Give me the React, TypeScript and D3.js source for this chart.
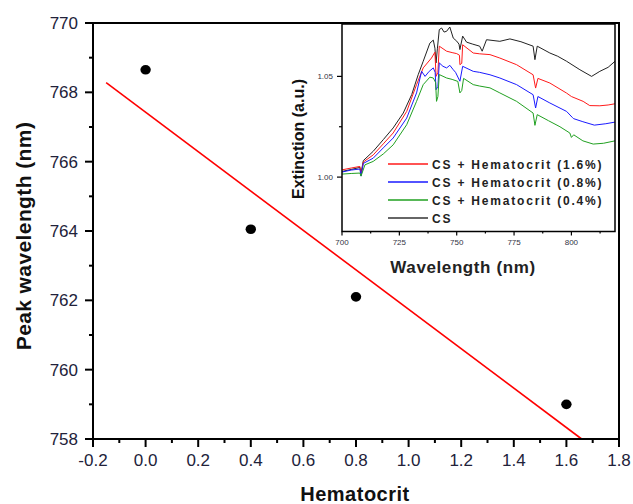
import React from "react";
import * as d3 from "d3";

// main plot: peak wavelength vs hematocrit
const hematocrit = [0.0, 0.4, 0.8, 1.6];
const peakWavelength = [768.65, 764.05, 762.1, 759.0];
const fitX = [-0.15, 1.658];
const fitY = [768.28, 758.0];

// inset spectra, [wavelength nm, extinction]
const csSeries: [number, number][] = [
  [700, 1.0028], [704, 1.0038], [707.8, 1.0048], [708.3, 1.002], [709.3, 1.0082], [713.6, 1.0128],
  [718, 1.0186], [722.3, 1.0244], [726.7, 1.0318], [730.4, 1.041], [733.2, 1.0508], [735.4, 1.0575],
  [738.3, 1.0665], [739.8, 1.068], [740.5, 1.064], [741, 1.0567], [741.6, 1.064], [742.4, 1.0732],
  [743.4, 1.074], [744.5, 1.072], [745.6, 1.0724], [747, 1.0745], [748.5, 1.069], [750, 1.0675],
  [751, 1.066], [751.4, 1.0633], [752.6, 1.07], [754.3, 1.067], [757, 1.066], [760, 1.065],
  [761.1, 1.0625], [763, 1.0682], [768.8, 1.0674], [773.2, 1.0686], [778, 1.0672], [783.3, 1.065],
  [784.1, 1.0583], [785.1, 1.065], [790.6, 1.0616], [794, 1.06], [797.9, 1.0575], [803.7, 1.0533],
  [808.8, 1.05], [812.4, 1.0525], [816, 1.0545], [819, 1.0575],
];
const hct16Series: [number, number][] = [
  [700, 1.0036], [704, 1.0045], [707.8, 1.0053], [708.3, 1.001], [709.3, 1.0075], [713.6, 1.011],
  [718, 1.0165], [722.3, 1.0219], [728.2, 1.0326], [732.5, 1.0459], [735.4, 1.0542], [739, 1.0591],
  [740.5, 1.062], [741, 1.05], [741.8, 1.052], [742.4, 1.065], [745.6, 1.0625], [748, 1.0618],
  [750, 1.0613], [751.2, 1.0605], [751.4, 1.0558], [752.2, 1.0565], [752.6, 1.0657], [757.2, 1.0616],
  [760, 1.0612], [764.5, 1.0608], [768.8, 1.0591], [776.1, 1.0558], [783.3, 1.0508], [784.4, 1.0442],
  [785.4, 1.049], [790.6, 1.0467], [797.9, 1.0417], [800, 1.04], [805.1, 1.0376], [808, 1.0355],
  [812.4, 1.0354], [816, 1.0358], [819, 1.0364],
];
const hct08Series: [number, number][] = [
  [700, 1.0025], [704, 1.0035], [707.8, 1.004], [708.3, 1.0005], [709.3, 1.0068], [713.6, 1.0094],
  [718, 1.0145], [722.3, 1.0194], [728.2, 1.0293], [732.5, 1.0418], [734.7, 1.0525], [736.2, 1.05],
  [738, 1.0525], [739.8, 1.0542], [740.6, 1.052], [741, 1.0434], [741.8, 1.045], [742.4, 1.0567],
  [744, 1.055], [745.6, 1.0542], [747, 1.0555], [748.5, 1.0533], [749.5, 1.052], [751.4, 1.0476],
  [752.6, 1.055], [757.2, 1.0525], [760, 1.052], [764.5, 1.0508], [768.8, 1.0492], [776.1, 1.0459],
  [783.3, 1.0409], [784.4, 1.0343], [785.4, 1.04], [790.6, 1.0368], [797.9, 1.0326], [800.5, 1.0295],
  [801, 1.029], [805, 1.0275], [810, 1.0258], [815, 1.0265], [819, 1.0273],
];
const hct04Series: [number, number][] = [
  [700, 1.0015], [704, 1.0018], [707.8, 1.002], [708.3, 1.0005], [710, 1.0061], [713.6, 1.0078],
  [718, 1.0115], [722.3, 1.016], [728.2, 1.026], [732.5, 1.0376], [735.4, 1.0459], [738.3, 1.0496],
  [739.8, 1.0492], [740.8, 1.047], [741.2, 1.0376], [741.8, 1.04], [742.4, 1.0509], [745.6, 1.0492],
  [748, 1.0485], [750.5, 1.0475], [751.4, 1.0418], [752.2, 1.043], [753, 1.049], [757.2, 1.0459],
  [760, 1.0452], [764.5, 1.0443], [768.8, 1.0418], [776.1, 1.0376], [783.3, 1.0318], [784.1, 1.0257],
  [785.1, 1.031], [790, 1.028], [795, 1.025], [799.3, 1.0219], [800, 1.0197], [801, 1.021],
  [805, 1.018], [809.5, 1.0164], [814, 1.0168], [819, 1.018],
];

const legendLabels = [
  "CS + Hematocrit (1.6%)",
  "CS + Hematocrit (0.8%)",
  "CS + Hematocrit (0.4%)",
  "CS",
];
const legendColors = ["#ff1a1a", "#1a1aff", "#21a021", "#333333"];

const xTickValues = d3.range(-0.2, 1.81, 0.2);
const yTickValues = d3.range(758, 770.1, 2);
const insetXTicks = [700, 725, 750, 775, 800];
const insetYTicks = [1.0, 1.05];

const FONT = "Arial, 'Liberation Sans', sans-serif";
const TICK_COLOR = "#22223a";

export default function App() {
  const x = d3.scaleLinear().domain([-0.2, 1.8]).range([93, 619]);
  const y = d3.scaleLinear().domain([758, 770]).range([439, 23]);

  const xi = d3.scaleLinear().domain([700, 819]).range([342, 615]);
  const yi = d3.scaleLinear().domain([0.973, 1.076]).range([231.5, 24]);

  const xMinor = d3.range(-0.1, 1.8, 0.2);
  const yMinor = d3.range(759, 770, 2);
  const xiMinor = d3.range(712.5, 819, 25);
  const yiMinor = [1.025];

  const spectrumLine = d3
    .line<[number, number]>()
    .x((d) => xi(d[0]))
    .y((d) => yi(d[1]));

  // drawn back to front: CS, 1.6, 0.8, 0.4
  const spectra = [
    { data: csSeries, color: "#222222" },
    { data: hct16Series, color: "#ff1a1a" },
    { data: hct08Series, color: "#1a1aff" },
    { data: hct04Series, color: "#21a021" },
  ];

  const [ix0, ix1] = xi.range();
  const [iy0, iy1] = yi.range();

  return (
    <svg
      width={633}
      height={504}
      style={{ position: "fixed", left: 0, top: 0, background: "#fff" }}
      fontFamily={FONT}
    >
      <rect width={633} height={504} fill="#fff" />

      {/* fit line */}
      <line
        x1={x(fitX[0])}
        y1={y(fitY[0])}
        x2={x(fitX[1])}
        y2={y(fitY[1])}
        stroke="#ff0000"
        strokeWidth={1.6}
      />

      {/* data points */}
      {hematocrit.map((h, i) => (
        <ellipse
          key={i}
          cx={x(h)}
          cy={y(peakWavelength[i])}
          rx={5.2}
          ry={4.8}
          fill="#000"
        />
      ))}

      {/* main frame */}
      <rect
        x={x(-0.2)}
        y={y(770)}
        width={x(1.8) - x(-0.2)}
        height={y(758) - y(770)}
        fill="none"
        stroke="#000"
        strokeWidth={2}
      />

      {/* x ticks */}
      {xTickValues.map((t) => (
        <g key={t.toFixed(1)}>
          <line x1={x(t)} x2={x(t)} y1={y(758)} y2={y(758) + 8} stroke="#000" strokeWidth={2} />
          <text x={x(t)} y={466} textAnchor="middle" fontSize={17} fill={TICK_COLOR}>
            {t.toFixed(1)}
          </text>
        </g>
      ))}
      {xMinor.map((t) => (
        <line key={t.toFixed(1)} x1={x(t)} x2={x(t)} y1={y(758)} y2={y(758) + 4} stroke="#000" strokeWidth={2} />
      ))}

      {/* y ticks */}
      {yTickValues.map((t) => (
        <g key={t}>
          <line x1={x(-0.2) - 8} x2={x(-0.2)} y1={y(t)} y2={y(t)} stroke="#000" strokeWidth={2} />
          <text x={78} y={y(t) + 6} textAnchor="end" fontSize={17} fill={TICK_COLOR}>
            {t}
          </text>
        </g>
      ))}
      {yMinor.map((t) => (
        <line key={t} x1={x(-0.2) - 4} x2={x(-0.2)} y1={y(t)} y2={y(t)} stroke="#000" strokeWidth={2} />
      ))}

      {/* axis titles */}
      <text x={355} y={501} textAnchor="middle" fontSize={20} fontWeight="bold" fill="#111" letterSpacing={0.5}>
        Hematocrit
      </text>
      <text
        transform={`translate(31 ${236}) rotate(-90)`}
        textAnchor="middle"
        fontSize={21}
        fontWeight="bold"
        fill="#111"
        letterSpacing={0.4}
      >
        Peak wavelength (nm)
      </text>

      {/* inset */}
      <defs>
        <clipPath id="inset-clip">
          <rect x={ix0} y={iy1} width={ix1 - ix0} height={iy0 - iy1} />
        </clipPath>
      </defs>
      <rect x={ix0} y={iy1} width={ix1 - ix0} height={iy0 - iy1} fill="#fff" />
      <g clipPath="url(#inset-clip)">
        {spectra.map((s, i) => (
          <path key={i} d={spectrumLine(s.data) || ""} fill="none" stroke={s.color} strokeWidth={1} />
        ))}
      </g>
      <rect
        x={ix0}
        y={iy1}
        width={ix1 - ix0}
        height={iy0 - iy1}
        fill="none"
        stroke="#000"
        strokeWidth={1.5}
      />

      {insetXTicks.map((t) => (
        <g key={t}>
          <line x1={xi(t)} x2={xi(t)} y1={iy0} y2={iy0 + 4} stroke="#000" strokeWidth={1.2} />
          <text x={xi(t)} y={245} textAnchor="middle" fontSize={8} fill="#334">
            {t}
          </text>
        </g>
      ))}
      {xiMinor.map((t) => (
        <line key={t} x1={xi(t)} x2={xi(t)} y1={iy0} y2={iy0 + 2} stroke="#000" strokeWidth={1.2} />
      ))}
      {insetYTicks.map((t) => (
        <g key={t}>
          <line x1={ix0 - 5} x2={ix0} y1={yi(t)} y2={yi(t)} stroke="#000" strokeWidth={1.2} />
          <text x={333} y={yi(t) + 3} textAnchor="end" fontSize={8} fill="#334">
            {t.toFixed(2)}
          </text>
        </g>
      ))}
      {yiMinor.map((t) => (
        <line key={t} x1={ix0 - 3} x2={ix0} y1={yi(t)} y2={yi(t)} stroke="#000" strokeWidth={1.2} />
      ))}

      <text x={463} y={273} textAnchor="middle" fontSize={17} fontWeight="bold" fill="#222" letterSpacing={0.6}>
        Wavelength (nm)
      </text>
      <text
        transform={`translate(304 ${139}) rotate(-90)`}
        textAnchor="middle"
        fontSize={16}
        fontWeight="bold"
        fill="#111"
      >
        Extinction (a.u.)
      </text>

      {/* legend */}
      {legendLabels.map((label, i) => (
        <g key={label} transform={`translate(388 ${164 + i * 18})`}>
          <line x1={0} x2={40} y1={0} y2={0} stroke={legendColors[i]} strokeWidth={1.3} />
          <text x={44} y={4.5} fontSize={12} fontWeight="bold" fill="#222" letterSpacing={1.8}>
            {label}
          </text>
        </g>
      ))}
    </svg>
  );
}
